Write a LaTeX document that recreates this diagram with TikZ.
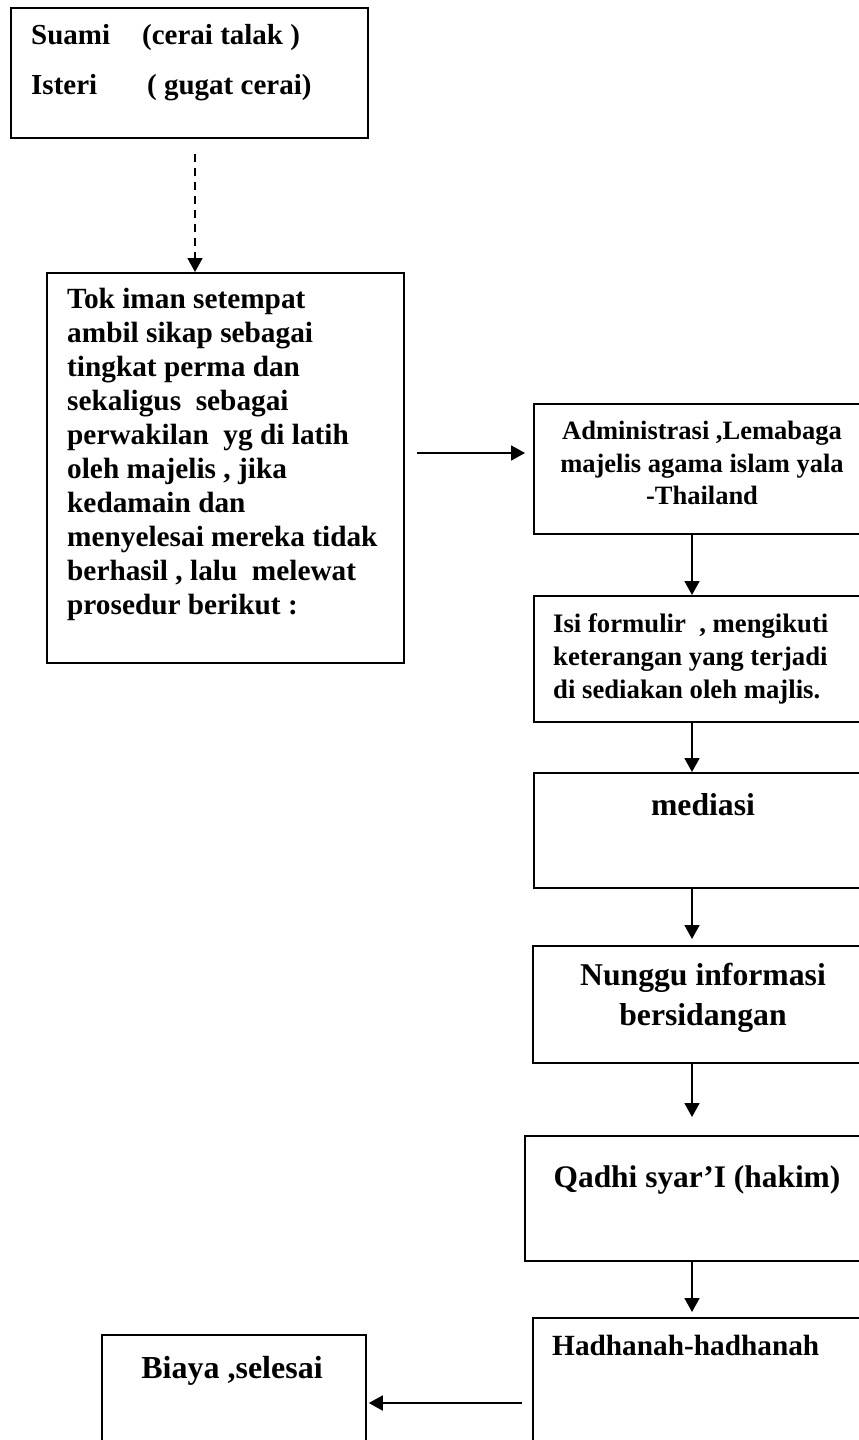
\documentclass[tikz,border=0pt]{standalone}
\usepackage{fontspec}
\setmainfont{Liberation Serif}
\usetikzlibrary{arrows.meta}

\tikzset{
  kotak/.style={draw, line width=1.8pt, inner sep=0pt, anchor=north west},
  teks/.style 2 args={inner sep=0pt, font=\fontsize{#1}{#2}\selectfont\bfseries},
  panah/.style={line width=1.8pt, -{Triangle[length=14pt,width=15pt]}},
}

\begin{document}
\begin{tikzpicture}[x=1pt,y=-1pt]

\useasboundingbox (0,0) rectangle (859,1440);
\clip (0,0) rectangle (859,1440);

% kotak
\node[kotak, minimum width=357pt, minimum height=130pt] (atas) at (10,7) {};
\node[kotak, minimum width=357pt, minimum height=390pt] (tok) at (46,272) {};
\node[kotak, minimum width=340pt, minimum height=130pt] (admin) at (533,403) {};
\node[kotak, minimum width=340pt, minimum height=126pt] (isi) at (533,595) {};
\node[kotak, minimum width=340pt, minimum height=115pt] (mediasi) at (533,772) {};
\node[kotak, minimum width=340pt, minimum height=117pt] (nunggu) at (532,945) {};
\node[kotak, minimum width=350pt, minimum height=125pt] (qadhi) at (524,1135) {};
\node[kotak, minimum width=340pt, minimum height=160pt] (hadhanah) at (532,1317) {};
\node[kotak, minimum width=264pt, minimum height=140pt] (biaya) at (101,1334) {};

% teks
\node[teks={29}{50}, anchor=north west, align=left] (tatas) at (31,24)
  {\makebox[111pt][l]{Suami}(cerai talak )\\\makebox[116pt][l]{Isteri}( gugat cerai)};
\node[teks={29.3}{34}, anchor=north west, align=left] (ttok) at (67,288)
  {Tok iman setempat\\ambil sikap sebagai\\tingkat perma dan\\sekaligus~ sebagai\\
   perwakilan~ yg di latih\\oleh majelis , jika\\kedamain dan\\
   menyelesai mereka tidak\\berhasil , lalu~ melewat\\prosedur berikut :};
\node[teks={26.5}{32.5}, anchor=north, align=center] (tadmin) at (702,421)
  {Administrasi ,Lemabaga\\majelis agama islam yala\\-Thailand};
\node[teks={26.7}{33}, anchor=north west, align=left] (tisi) at (553,613)
  {Isi formulir~ , mengikuti\\keterangan yang terjadi\\di sediakan oleh majlis.};
\node[teks={31.7}{38}, anchor=base] (tmediasi) at (703,815) {mediasi};
\node[teks={31.7}{40}, anchor=north, align=center] (tnunggu) at (703,963)
  {Nunggu informasi\\bersidangan};
\node[teks={31.4}{38}, anchor=base] (tqadhi) at (697,1187) {Qadhi syar’I (hakim)};
\node[teks={29.3}{35}, anchor=base west] (thadhanah) at (552,1355) {Hadhanah-hadhanah};
\node[teks={32}{38}, anchor=base] (tbiaya) at (232,1378) {Biaya ,selesai};

% panah
\coordinate (putus) at (195,0);
\coordinate (baris) at (0,453);
\coordinate (jalur) at (692,0);
\coordinate (bawah) at (0,1403);

\draw[panah, dash pattern=on 8pt off 6pt, shorten <=15pt] (atas.south -| putus) -- (tok.north -| putus);
\draw[panah, shorten <=12pt, shorten >=8pt] (tok.east |- baris) -- (admin.west |- baris);
\draw[panah] (admin.south -| jalur) -- (isi.north -| jalur);
\draw[panah] (isi.south -| jalur) -- (mediasi.north -| jalur);
\draw[panah, shorten >=6pt] (mediasi.south -| jalur) -- (nunggu.north -| jalur);
\draw[panah, shorten >=18pt] (nunggu.south -| jalur) -- (qadhi.north -| jalur);
\draw[panah, shorten >=5pt] (qadhi.south -| jalur) -- (hadhanah.north -| jalur);
\draw[panah, shorten <=10pt, shorten >=2pt] (hadhanah.west |- bawah) -- (biaya.east |- bawah);

\end{tikzpicture}
\end{document}
